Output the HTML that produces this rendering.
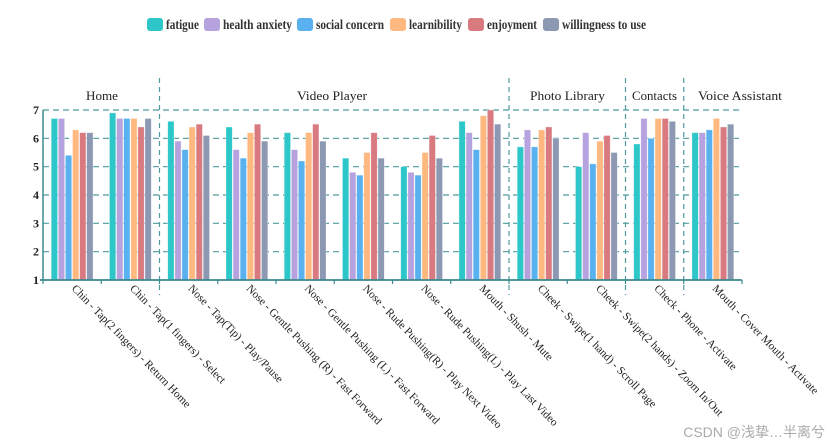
<!DOCTYPE html>
<html><head><meta charset="utf-8"><style>
body{margin:0;background:#fff;width:834px;height:447px;overflow:hidden}
svg{display:block}
text{font-family:"Liberation Serif",serif}
</style></head><body>
<svg id="chart" width="834" height="447" xmlns="http://www.w3.org/2000/svg"></svg>
<script>
const categories=["Chin - Tap(2 fingers) - Return Home","Chin - Tap(1 fingers) - Select","Nose - Tap(Tip) - Play/Pause","Nose - Gentle Pushing (R) - Fast Forward","Nose - Gentle Pushing (L) - Fast Forward","Nose - Rude Pushing(R) - Play Next Video","Nose - Rude Pushing(L) - Play Last Video","Mouth - Shush - Mute","Cheek - Swipe(1 hand) - Scroll Page","Cheek - Swipe(2 hands) - Zoom In/Out","Check - Phone - Activate","Mouth - Cover Mouth - Activate"];
const seriesNames=["fatigue","health anxiety","social concern","learnibility","enjoyment","willingness to use"];
const fatigue=[6.7,6.9,6.6,6.4,6.2,5.3,5.0,6.6,5.7,5.0,5.8,6.2];
const healthAnxiety=[6.7,6.7,5.9,5.6,5.6,4.8,4.8,6.2,6.3,6.2,6.7,6.2];
const socialConcern=[5.4,6.7,5.6,5.3,5.2,4.7,4.7,5.6,5.7,5.1,6.0,6.3];
const learnibility=[6.3,6.7,6.4,6.2,6.2,5.5,5.5,6.8,6.3,5.9,6.7,6.7];
const enjoyment=[6.2,6.4,6.5,6.5,6.5,6.2,6.1,7.0,6.4,6.1,6.7,6.4];
const willingness=[6.2,6.7,6.1,5.9,5.9,5.3,5.3,6.5,6.0,5.5,6.6,6.5];
const yTicks=[1,2,3,4,5,6,7];
const groupNames=["Home","Video Player","Photo Library","Contacts","Voice Assistant"];
const groupSizes=[2,6,2,1,1];

const series=[fatigue,healthAnxiety,socialConcern,learnibility,enjoyment,willingness];
const colors=["#2ec7c9","#b6a2de","#5ab1ef","#ffb980","#d87a80","#8d98b3"];
const NS="http://www.w3.org/2000/svg";
const svg=document.getElementById('chart');
function el(t,a,p){const e=document.createElementNS(NS,t);for(const k in a)e.setAttribute(k,a[k]);(p||svg).appendChild(e);return e;}
const X0=43,X1=742,Y0=280,Y1=110;
const cw=(X1-X0)/categories.length;
const y=v=>Y0-(v-1)*(Y0-Y1)/6;
const xc=i=>X0+cw*i;

// legend
const legX=[147,204,297,390,468,543];
const legEnd=[199,292,384,462,537,646];
seriesNames.forEach((n,i)=>{
  const g=el('g',{});
  
  
  el('rect',{x:legX[i],y:18,width:16,height:13,rx:3,fill:colors[i]},g);
  const t=el('text',{x:legX[i]+19,y:29,'font-size':13.5,'font-weight':'bold',fill:'#333',textLength:legEnd[i]-legX[i]-19,lengthAdjust:'spacingAndGlyphs'},g);
  t.textContent=n;
});

// grid
yTicks.forEach(v=>{
  const l=el('line',{x1:X0,x2:X1,y1:y(v),y2:y(v),stroke:'#4f9a9e','stroke-width':1.2,'stroke-dasharray':'6,4'});
  
  
  const t=el('text',{x:X0-4,y:y(v)+4,'font-size':12,'text-anchor':'end',fill:'#222','font-weight':'bold'});
  
  
  t.textContent=v;
});
// group separators & titles
const titleX=[86,297,530,632,698];
const titleLen=[32,70,75,45,84];
let acc=0;
groupSizes.forEach((s,gi)=>{
  const b=xc(acc+s);
  const t=el('text',{x:titleX[gi],y:100,'font-size':13,fill:'#222',textLength:titleLen[gi],lengthAdjust:'spacingAndGlyphs'});
  
  
  t.textContent=groupNames[gi];
  acc+=s;
  if(gi<groupSizes.length-1){
    const l=el('line',{x1:b,x2:b,y1:78,y2:295,stroke:'#4f9a9e','stroke-width':1.2,'stroke-dasharray':'5,4'});
    
    
  }
});
// bars
const bw=6.3,step=7.1;
categories.forEach((c,i)=>{
  const start=xc(i)+cw/2-step*3+0.4;
  series.forEach((s,k)=>{
    const r=el('rect',{x:start+k*step,y:y(s[i]),width:bw,height:Y0-y(s[i]),fill:colors[k],stroke:'rgba(255,255,255,0.5)','stroke-width':0.6});
    
    
  });
});
// axes
const yl=el('line',{x1:X0,x2:X0,y1:Y1,y2:Y0,stroke:'#3b8a8e','stroke-width':1.5});


const xl=el('line',{x1:X0-3,x2:X1,y1:Y0,y2:Y0,stroke:'#3b8a8e','stroke-width':1.8});


for(let i=0;i<=categories.length;i++){
  const tk=el('line',{x1:xc(i),x2:xc(i),y1:Y0,y2:Y0+4,stroke:'#3b8a8e','stroke-width':1.2});
  
  
}
categories.forEach((c,i)=>{
  const x=xc(i)+cw/2-1,yy=Y0+9;
  const t=el('text',{x:x,y:yy,'font-size':11.3,fill:'#222',transform:`rotate(46 ${x} ${yy})`});
  
  
  t.textContent=c;
});
// watermark
const w=el('text',{x:825,y:437,'font-size':14,'text-anchor':'end',fill:'#aaa'});
w.setAttribute('style','font-family:"Liberation Sans","Noto Sans CJK SC",sans-serif');


w.textContent='CSDN @浅挚…半离兮';
</script>
</body></html>
